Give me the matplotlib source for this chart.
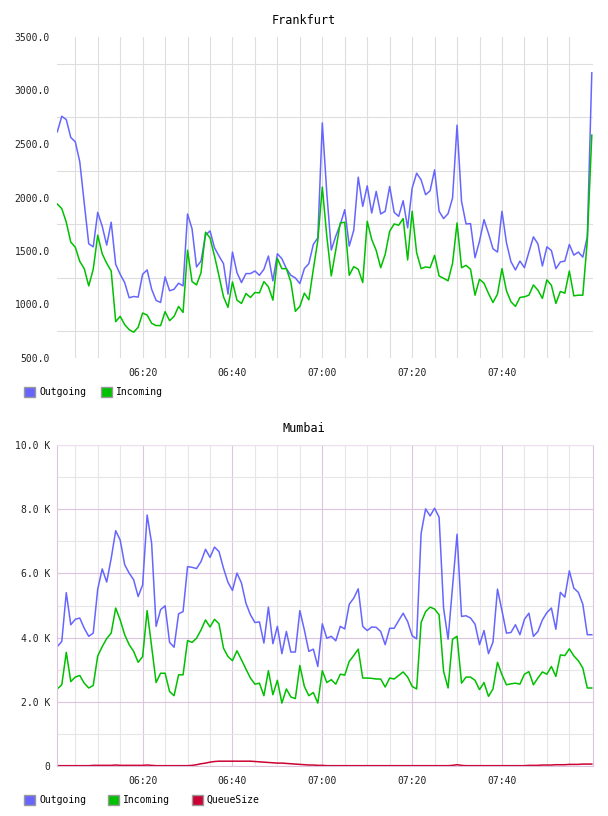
import pandas as pd
import matplotlib
matplotlib.use("Agg")
import matplotlib.pyplot as plt
import matplotlib.dates as mdates
from matplotlib.patches import Patch

# one sample per minute, 06:01 .. 08:00
times = pd.date_range("2024-01-01 06:01", periods=120, freq="min")

fra_out = [2614, 2759, 2728, 2561, 2521, 2335, 1948, 1567, 1539, 1861, 1731, 1555, 1769, 1375, 1283,
           1205, 1063, 1075, 1069, 1283, 1323, 1143, 1038, 1019, 1258, 1128, 1143, 1199, 1174, 1846,
           1707, 1351, 1406, 1648, 1688, 1530, 1453, 1382, 1097, 1490, 1298, 1205, 1289, 1289, 1313,
           1273, 1329, 1453, 1221, 1474, 1428, 1335, 1273, 1248, 1196, 1335, 1382, 1561, 1623, 2697,
           2041, 1509, 1639, 1747, 1886, 1546, 1694, 2190, 1917, 2109, 1855, 2057, 1846, 1871, 2103,
           1861, 1824, 1970, 1716, 2087, 2227, 2165, 2026, 2063, 2258, 1871, 1803, 1849, 1995, 2676,
           1964, 1753, 1756, 1437, 1592, 1793, 1663, 1521, 1490, 1871, 1577, 1400, 1323, 1406, 1344,
           1490, 1632, 1567, 1360, 1539, 1505, 1335, 1397, 1406, 1561, 1462, 1490, 1443, 1632, 3165]
fra_in = [1939, 1896, 1769, 1583, 1536, 1403, 1335, 1174, 1329, 1648, 1474, 1385, 1313, 840, 889,
          812, 765, 741, 787, 920, 902, 824, 803, 803, 933, 849, 889, 982, 926, 1508,
          1214, 1183, 1298, 1676, 1623, 1453, 1267, 1072, 973, 1211, 1041, 1010, 1103, 1066, 1112,
          1109, 1214, 1165, 1041, 1431, 1335, 1335, 1211, 936, 982, 1106, 1044, 1329, 1598, 2097,
          1639, 1267, 1509, 1762, 1769, 1273, 1354, 1329, 1205, 1778, 1608, 1505, 1344, 1468, 1685,
          1753, 1741, 1803, 1416, 1871, 1484, 1335, 1351, 1344, 1459, 1267, 1245, 1221, 1385, 1762,
          1344, 1366, 1329, 1087, 1236, 1199, 1103, 1019, 1097, 1335, 1128, 1026, 982, 1066, 1072,
          1087, 1183, 1134, 1057, 1230, 1180, 1010, 1122, 1106, 1313, 1081, 1087, 1087, 1600, 2583]

# Mumbai values in thousands
mum_out = [3.72, 3.88, 5.40, 4.40, 4.57, 4.61, 4.29, 4.04, 4.14, 5.51, 6.14, 5.73, 6.47, 7.33, 7.04,
           6.27, 6.01, 5.80, 5.28, 5.64, 7.82, 6.94, 4.35, 4.87, 4.99, 3.85, 3.70, 4.74, 4.81, 6.21,
           6.19, 6.15, 6.37, 6.75, 6.50, 6.82, 6.68, 6.16, 5.72, 5.47, 6.01, 5.70, 5.07, 4.71, 4.47,
           4.49, 3.83, 4.95, 3.81, 4.35, 3.50, 4.19, 3.55, 3.55, 4.84, 4.24, 3.57, 3.64, 3.10, 4.43,
           3.98, 4.04, 3.90, 4.35, 4.27, 5.04, 5.23, 5.52, 4.35, 4.22, 4.33, 4.32, 4.19, 3.78, 4.29,
           4.29, 4.53, 4.76, 4.50, 4.06, 3.96, 7.25, 8.01, 7.79, 8.03, 7.75, 4.92, 3.95, 5.59, 7.22,
           4.66, 4.68, 4.61, 4.42, 3.78, 4.22, 3.50, 3.86, 5.51, 4.84, 4.14, 4.16, 4.40, 4.09, 4.57,
           4.76, 4.04, 4.19, 4.55, 4.78, 4.92, 4.26, 5.41, 5.26, 6.08, 5.54, 5.41, 5.04, 4.09, 4.09]
mum_in = [2.40, 2.53, 3.54, 2.63, 2.77, 2.82, 2.58, 2.43, 2.51, 3.43, 3.72, 3.97, 4.14, 4.92, 4.55,
          4.09, 3.78, 3.57, 3.23, 3.41, 4.84, 3.72, 2.60, 2.89, 2.89, 2.32, 2.19, 2.84, 2.84, 3.91,
          3.85, 3.98, 4.24, 4.55, 4.33, 4.57, 4.43, 3.67, 3.41, 3.28, 3.59, 3.31, 3.02, 2.74, 2.55,
          2.58, 2.19, 2.97, 2.22, 2.67, 1.96, 2.40, 2.15, 2.10, 3.13, 2.48, 2.19, 2.29, 1.96, 2.97,
          2.60, 2.69, 2.55, 2.86, 2.83, 3.26, 3.44, 3.64, 2.74, 2.74, 2.73, 2.71, 2.71, 2.46, 2.74,
          2.71, 2.82, 2.93, 2.77, 2.48, 2.40, 4.47, 4.81, 4.95, 4.89, 4.71, 2.95, 2.43, 3.95, 4.04,
          2.58, 2.77, 2.77, 2.67, 2.38, 2.60, 2.17, 2.40, 3.23, 2.84, 2.53, 2.56, 2.58, 2.55, 2.86,
          2.94, 2.53, 2.74, 2.93, 2.86, 3.10, 2.79, 3.46, 3.44, 3.65, 3.43, 3.28, 3.05, 2.43, 2.43]
mum_queue = [0.01, 0.01, 0.01, 0.01, 0.01, 0.01, 0.01, 0.01, 0.02, 0.02, 0.02, 0.02, 0.02, 0.03, 0.02,
             0.02, 0.02, 0.02, 0.02, 0.02, 0.03, 0.02, 0.01, 0.01, 0.01, 0.01, 0.01, 0.01, 0.01, 0.01,
             0.02, 0.04, 0.07, 0.09, 0.12, 0.14, 0.15, 0.15, 0.15, 0.15, 0.15, 0.15, 0.15, 0.15, 0.14,
             0.13, 0.12, 0.11, 0.10, 0.09, 0.09, 0.08, 0.07, 0.06, 0.05, 0.04, 0.03, 0.03, 0.02, 0.02,
             0.01, 0.01, 0.01, 0.01, 0.01, 0.01, 0.01, 0.01, 0.01, 0.01, 0.01, 0.01, 0.01, 0.01, 0.01,
             0.01, 0.01, 0.01, 0.01, 0.01, 0.01, 0.01, 0.01, 0.01, 0.01, 0.01, 0.01, 0.01, 0.02, 0.04,
             0.02, 0.01, 0.01, 0.01, 0.01, 0.01, 0.01, 0.01, 0.01, 0.01, 0.01, 0.01, 0.01, 0.01, 0.01,
             0.02, 0.02, 0.02, 0.03, 0.03, 0.03, 0.04, 0.04, 0.04, 0.05, 0.05, 0.05, 0.06, 0.06, 0.06]

x_labels = ["06:20", "06:40", "07:00", "07:20", "07:40"]
fra_yticks = [500, 1000, 1500, 2000, 2500, 3000, 3500]
fra_ylabels = ["500.0", "1000.0", "1500.0", "2000.0", "2500.0", "3000.0", "3500.0"]
mum_yticks = [0, 2, 4, 6, 8, 10]
mum_ylabels = ["0", "2.0 K", "4.0 K", "6.0 K", "8.0 K", "10.0 K"]

BLUE = "#6666ff"
GREEN = "#00c000"
RED = "#cc0033"

plt.rcParams['font.family'] = ['DejaVu Sans Mono']
plt.rcParams['font.size'] = 7

fig = plt.figure(figsize=(6.08, 8.16), dpi=100)
ax1 = fig.add_axes([57 / 608, 1 - 358 / 816, 536 / 608, 321 / 816])
ax2 = fig.add_axes([57 / 608, 1 - 766 / 816, 536 / 608, 321 / 816])

day = "2024-01-01 "
major_x = [pd.Timestamp(day + t) for t in x_labels]
minor_x = pd.date_range(day + "06:05", day + "07:55", freq="5min")


def setup_x(ax):
    ax.set_xlim(pd.Timestamp(day + "06:00:56"), pd.Timestamp(day + "08:00:16"))
    ax.set_xticks(major_x)
    ax.set_xticklabels(x_labels)
    ax.set_xticks(minor_x, minor=True)
    ax.tick_params(which="both", length=0, colors="#222222")
    ax.tick_params(axis="x", pad=7)
    ax.tick_params(axis="y", pad=5)


# Frankfurt
ax1.plot(times, fra_out, color=BLUE, lw=1.1)
ax1.plot(times, fra_in, color=GREEN, lw=1.1)
setup_x(ax1)
ax1.xaxis.set_minor_locator(mdates.MinuteLocator(byminute=range(0, 60, 5)))
ax1.set_xticks(list(minor_x), minor=True)
ax1.xaxis.remove_overlapping_locs = False
ax1.set_ylim(500, 3500)
ax1.set_yticks(fra_yticks)
ax1.set_yticklabels(fra_ylabels)
ax1.set_yticks(list(range(750, 3500, 500)), minor=True)
ax1.grid(False, which="major")
ax1.grid(True, which="minor", color="#dedede", lw=0.8)
for s in ax1.spines.values():
    s.set_visible(False)
ax1.set_axisbelow(True)

# Mumbai
ax2.plot(times, mum_out, color=BLUE, lw=1.1)
ax2.plot(times, mum_in, color=GREEN, lw=1.1)
ax2.plot(times, mum_queue, color=RED, lw=1.1)
setup_x(ax2)
ax2.set_ylim(0, 10)
ax2.set_yticks(mum_yticks)
ax2.set_yticklabels(mum_ylabels)
ax2.set_yticks([1, 3, 5, 7, 9], minor=True)
ax2.grid(True, which="major", color="#dcc4dc", lw=0.8)
ax2.grid(True, which="minor", color="#e6e6e6", lw=0.8)
for s in ax2.spines.values():
    s.set_color("#dcc4dc")
    s.set_linewidth(0.8)
ax2.spines["top"].set_color("#eedff0")
ax2.set_axisbelow(True)

fig.text(0.5, 1 - 20 / 816, "Frankfurt", ha="center", va="center", fontsize=8.5)
fig.text(0.5, 1 - 428 / 816, "Mumbai", ha="center", va="center", fontsize=8.5)


def legend(ax, names, colors, y, spacing):
    handles = [Patch(facecolor=c, edgecolor="#999999", lw=1) for c in colors]
    ax.legend(handles, names, loc="center left", bbox_to_anchor=(24 / 608, 1 - y / 816),
              bbox_transform=fig.transFigure, ncol=len(names), frameon=False,
              handlelength=1.15, handleheight=1.15, handletextpad=0.4,
              columnspacing=spacing, borderpad=0, borderaxespad=0, fontsize=7)


legend(ax1, ["Outgoing", "Incoming"], [BLUE, GREEN], 392, 1.55)
legend(ax2, ["Outgoing", "Incoming", "QueueSize"], [BLUE, GREEN, RED], 800, 2.25)

fig.savefig("out.png", dpi=100)
